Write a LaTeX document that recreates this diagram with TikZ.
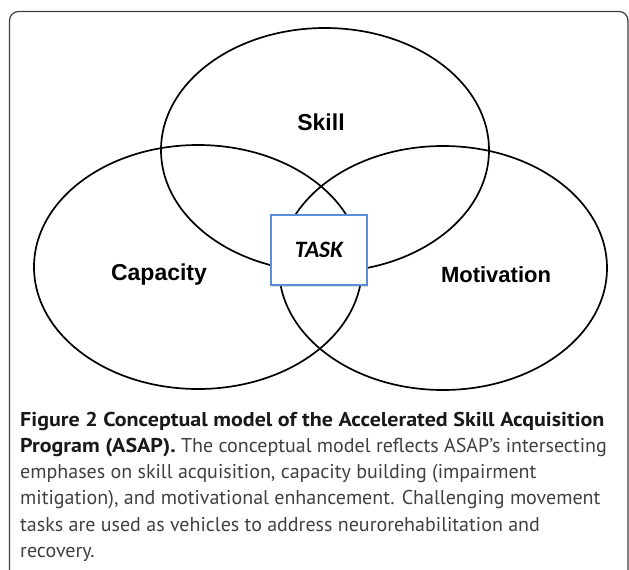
\documentclass[tikz,border=0pt]{standalone}
\usepackage{fontspec}
\setmainfont{Liberation Sans}
\newfontfamily\capfont{PT Sans}[BoldFeatures={FakeStretch=1.1}]
\newfontfamily\taskfont{Carlito}
\usetikzlibrary{shapes.geometric,shadows}

\definecolor{boxblue}{HTML}{5B8ED8}
\definecolor{captext}{HTML}{404040}

\tikzset{
  area/.style={ellipse, draw, line width=1.7pt, minimum width=328pt, minimum height=244pt, inner sep=0pt},
  arealabel/.style={font=\bfseries\fontsize{23}{28}\selectfont},
  taskbox/.style={draw=boxblue, line width=1.2pt, fill=white, minimum width=96pt, minimum height=70pt,
    drop shadow={opacity=0.25, shadow xshift=1pt, shadow yshift=-2pt},
    font=\taskfont\bfseries\itshape\fontsize{23.5}{28}\selectfont},
  capline/.style={anchor=base west, inner sep=0pt, text=captext, font=\capfont\fontsize{20}{24}\selectfont},
}

\begin{document}
\begin{tikzpicture}[x=1pt, y=-1pt]
    \useasboundingbox (0,0) rectangle (629,570);
    % frame of the figure
    \draw [rounded corners=9pt, line width=1.2pt, black!75] (9.5,11.5) rectangle (628,600);

    % three areas
    \node [area] (skill) at (325,150) {};
    \node [area] (capacity) at (198,267) {};
    \node [area] (motivation) at (443,268) {};

    \node [arealabel] (skilltext) at (321,122) {Skill};
    \node [arealabel] (capacitytext) at (159,275) {Capacity};
    \node [arealabel, font=\bfseries\fontsize{22}{28}\selectfont] (motivationtext) at (496,275) {Motivation};

    % task in the middle
    \node [taskbox] (task) at (319,250) {TASK};

    % caption
    \node [capline] (cap1) at (20,426) {\textbf{\color{black!90}Figure 2 Conceptual model of the Accelerated Skill Acquisition}};
    \node [capline] (cap2) at (20,452.3) {\textbf{\color{black!90}Program (ASAP).} The conceptual model reflects ASAP’s intersecting};
    \node [capline] (cap3) at (20,478.6) {emphases on skill acquisition, capacity building (impairment};
    \node [capline] (cap4) at (20,504.9) {mitigation), and motivational enhancement. Challenging movement};
    \node [capline] (cap5) at (20,531.2) {tasks are used as vehicles to address neurorehabilitation and};
    \node [capline] (cap6) at (20,557.5) {recovery.};
\end{tikzpicture}
\end{document}
